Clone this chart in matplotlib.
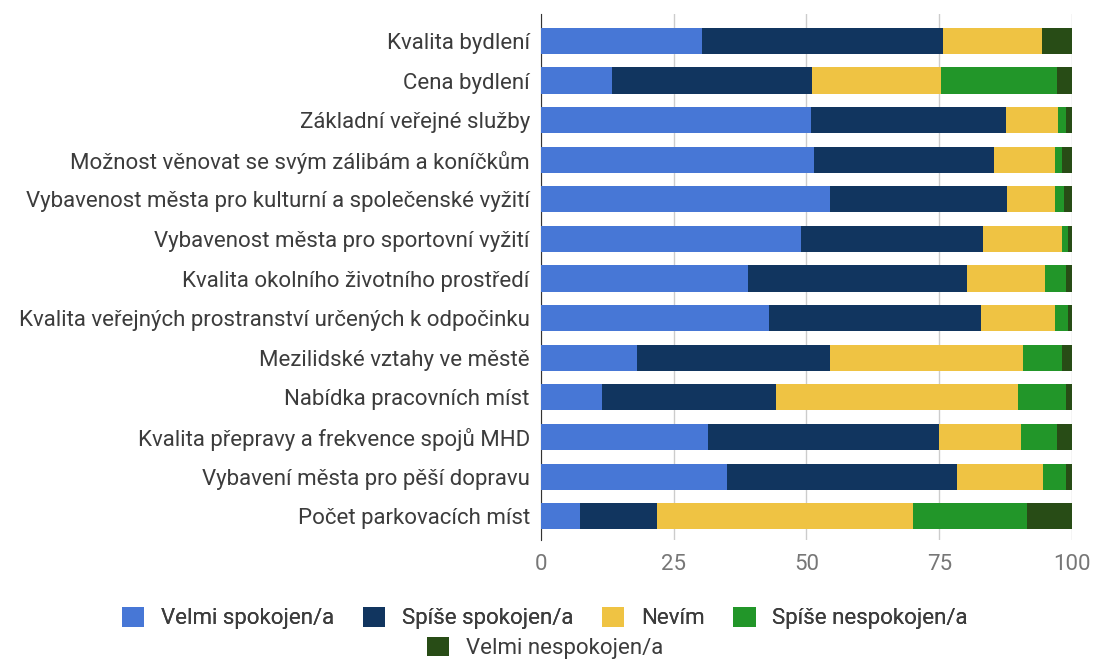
import numpy as np
import matplotlib.pyplot as plt
from matplotlib.patches import Patch

plt.rcParams['font.family'] = ['Roboto', 'DejaVu Sans']

kategorie = [
    'Kvalita bydlení',
    'Cena bydlení',
    'Základní veřejné služby',
    'Možnost věnovat se svým zálibám a koníčkům',
    'Vybavenost města pro kulturní a společenské vyžití',
    'Vybavenost města pro sportovní vyžití',
    'Kvalita okolního životního prostředí',
    'Kvalita veřejných prostranství určených k odpočinku',
    'Mezilidské vztahy ve městě',
    'Nabídka pracovních míst',
    'Kvalita přepravy a frekvence spojů MHD',
    'Vybavení města pro pěší dopravu',
    'Počet parkovacích míst',
]

velmi_spokojen = [30.4, 13.3, 50.8, 51.5, 54.4, 49.0, 39.0, 42.9, 18.0, 11.5, 31.4, 35.0, 7.3]
spise_spokojen = [45.3, 37.8, 36.8, 33.9, 33.4, 34.2, 41.3, 40.0, 36.4, 32.8, 43.6, 43.3, 14.6]
nevim = [18.6, 24.3, 9.8, 11.4, 9.0, 15.0, 14.7, 13.9, 36.3, 45.6, 15.4, 16.2, 48.1]
spise_nespokojen = [0.0, 21.8, 1.5, 1.4, 1.7, 1.1, 3.9, 2.5, 7.5, 9.0, 6.8, 4.4, 21.5]
velmi_nespokojen = [5.7, 2.8, 1.1, 1.8, 1.5, 0.7, 1.1, 0.7, 1.8, 1.1, 2.8, 1.1, 8.5]

nazvy = ['Velmi spokojen/a', 'Spíše spokojen/a', 'Nevím', 'Spíše nespokojen/a', 'Velmi nespokojen/a']
barvy = ['#4777d6', '#11355f', '#efc343', '#229629', '#284c16']
serie = [velmi_spokojen, spise_spokojen, nevim, spise_nespokojen, velmi_nespokojen]

fig = plt.figure(figsize=(10.94, 6.59), dpi=100)
ax = fig.add_axes([0.4945, 0.1806, 0.4854, 0.7982])

y = np.arange(len(kategorie))
zleva = np.zeros(len(kategorie))
for hodnoty, barva in zip(serie, barvy):
    ax.barh(y, hodnoty, left=zleva, height=0.66, color=barva, zorder=3)
    zleva += np.array(hodnoty)

ax.set_xlim(0, 100)
ax.set_ylim(12.6, -0.68)
ax.set_yticks(y)
ax.set_yticklabels(kategorie, fontsize=16, color='#3c3c3c')
ax.set_xticks([0, 25, 50, 75, 100])
ax.tick_params(axis='y', length=0, pad=8)
ax.tick_params(axis='x', length=0, pad=10, labelsize=16, labelcolor='#777777')
for s in ['top', 'right', 'bottom']:
    ax.spines[s].set_visible(False)
ax.spines['left'].set_color('#333333')
ax.grid(axis='x', color='#cccccc', linewidth=1, zorder=0)

handles = [Patch(facecolor=b, label=n) for n, b in zip(nazvy, barvy)]
leg_kw = dict(frameon=False, fontsize=16, handlelength=1.0, handleheight=1.0,
              handletextpad=0.75, borderpad=0, borderaxespad=0)
leg1 = fig.legend(handles=handles[:4], loc='center', bbox_to_anchor=(0.498, 0.062), ncol=4,
                  columnspacing=1.3, **leg_kw)
for t in leg1.get_texts():
    t.set_color('#3c3c3c')
leg2 = fig.legend(handles=handles[4:], loc='center', bbox_to_anchor=(0.498, 0.017), ncol=1,
                  **leg_kw)
for t in leg2.get_texts():
    t.set_color('#3c3c3c')
fig.add_artist(leg1)

fig.savefig('out.png', dpi=100)
